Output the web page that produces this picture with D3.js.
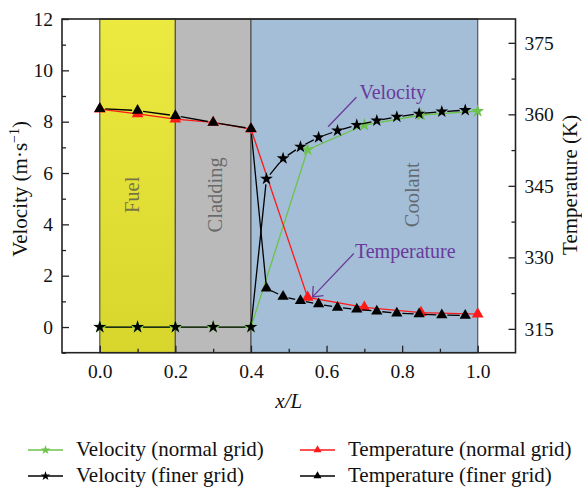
<!DOCTYPE html>
<html>
<head>
<meta charset="utf-8">
<script src="https://cdn.jsdelivr.net/npm/d3@7"></script>
<style>
  body { margin: 0; background: #fff; }
  svg { display: block; font-family: "Liberation Serif", "Times New Roman", Times, Tinos, "DejaVu Serif", "Noto Serif", serif; }
</style>
</head>
<body>
<div id="chart"></div>
<script>
// regions along x/L
const regionNames = ["Fuel", "Cladding", "Coolant"];
const regionStart = [0.0, 0.2, 0.4];
const regionEnd = [0.2, 0.4, 1.0];
const regionLabelX = [0.085, 0.305, 0.827];

// normal grid
const xNormal = [0, 0.1, 0.2, 0.3, 0.4, 0.55, 0.7, 0.85, 1.0];
const velNormal = [0, 0, 0, 0, 0, 6.91, 7.87, 8.26, 8.41];
const tempNormal = [361.1, 360.1, 359.0, 358.3, 356.9, 321.6, 319.5, 318.4, 318.1];

// finer grid
const xFine = [0, 0.1, 0.2, 0.3, 0.4, 0.441, 0.485, 0.531, 0.579, 0.629, 0.68, 0.733, 0.786, 0.845, 0.905, 0.967];
const velFine = [0, 0, 0, 0, 0, 5.77, 6.57, 7.02, 7.39, 7.65, 7.87, 8.04, 8.19, 8.31, 8.39, 8.45];
const tempFine = [361.2, 360.8, 359.7, 358.3, 357.0, 323.5, 321.8, 320.9, 320.2, 319.5, 319.1, 318.7, 318.3, 318.1, 317.9, 317.8];

// ticks
const xTicks = [0, 0.2, 0.4, 0.6, 0.8, 1.0];
const xMinor = [0.1, 0.3, 0.5, 0.7, 0.9];
const velTicks = [0, 2, 4, 6, 8, 10, 12];
const velMinor = [-1, 1, 3, 5, 7, 9, 11];
const tempTicks = [315, 330, 345, 360, 375];
const tempMinor = [322.5, 337.5, 352.5, 367.5];

const legendLabels = ["Velocity (normal grid)", "Temperature (normal grid)",
                      "Velocity (finer grid)", "Temperature (finer grid)"];

const W = 582, H = 488;
const FONT = "'Liberation Serif', 'Times New Roman', Times, Tinos, 'DejaVu Serif', 'Noto Serif', serif";
const svg = d3.select("#chart").append("svg").attr("width", W).attr("height", H)
  .style("font-family", FONT);
svg.append("rect").attr("width", W).attr("height", H).attr("fill", "#fff");

// scales
const xs = d3.scaleLinear().domain([-0.1, 1.1]).range([62, 515.5]);
const yv = d3.scaleLinear().domain([-1, 12]).range([352.7, 19]);
const yt = d3.scaleLinear().domain([310, 380]).range([352.7, 19]);
const plotTop = yv.range()[1], plotBottom = yv.range()[0];

// gradient for the fuel band
const defs = svg.append("defs");
const grad = defs.append("linearGradient").attr("id", "fuelGrad")
  .attr("x1", 0).attr("y1", 0).attr("x2", 0).attr("y2", 1);
grad.append("stop").attr("offset", "0%").attr("stop-color", "#ece940");
grad.append("stop").attr("offset", "100%").attr("stop-color", "#d8d52d");
const regionFill = ["url(#fuelGrad)", "#bababa", "#a3bed6"];

// bands
svg.selectAll(".band").data(regionNames).join("rect")
  .attr("class", "band")
  .attr("x", (d, i) => xs(regionStart[i]))
  .attr("y", plotTop)
  .attr("width", (d, i) => xs(regionEnd[i]) - xs(regionStart[i]))
  .attr("height", plotBottom - plotTop)
  .attr("fill", (d, i) => regionFill[i])
  .attr("stroke", "#555").attr("stroke-width", 1.2);

svg.selectAll(".bandLabel").data(regionNames).join("text")
  .attr("class", "bandLabel")
  .attr("transform", (d, i) => `translate(${xs(regionLabelX[i])},${yv(5.15)}) rotate(-90)`)
  .attr("text-anchor", "middle").attr("dominant-baseline", "central")
  .attr("font-size", 20.5).attr("fill", "#4a4a4a").attr("fill-opacity", 0.72)
  .text(d => d);

// lines
const lineV = d3.line().x(d => xs(d[0])).y(d => yv(d[1]));
const lineT = d3.line().x(d => xs(d[0])).y(d => yt(d[1]));
const ptsVN = xNormal.map((x, i) => [x, velNormal[i]]);
const ptsTN = xNormal.map((x, i) => [x, tempNormal[i]]);
const ptsVF = xFine.map((x, i) => [x, velFine[i]]);
const ptsTF = xFine.map((x, i) => [x, tempFine[i]]);

const green = "#6cc24a", red = "#ff1a1a";
const star = d3.symbol().type(d3.symbolStar);
const tri = d3.symbol().type(d3.symbolTriangle);

// line with a small gap to each symbol
function gapPath(pix, gap) {
  let p = "";
  for (let i = 0; i < pix.length - 1; i++) {
    const [x0, y0] = pix[i], [x1, y1] = pix[i + 1];
    const dx = x1 - x0, dy = y1 - y0, len = Math.hypot(dx, dy);
    if (len <= 2 * gap) continue;
    const ux = dx / len, uy = dy / len;
    p += `M${x0 + ux * gap},${y0 + uy * gap}L${x1 - ux * gap},${y1 - uy * gap}`;
  }
  return p;
}

svg.append("path").attr("d", lineV(ptsVN)).attr("fill", "none").attr("stroke", green).attr("stroke-width", 1.3);
svg.append("path").attr("d", lineT(ptsTN)).attr("fill", "none").attr("stroke", red).attr("stroke-width", 1.3);

svg.selectAll(".mVN").data(ptsVN).join("path").attr("class", "mVN")
  .attr("d", star.size(55)).attr("fill", green)
  .attr("transform", d => `translate(${xs(d[0])},${yv(d[1])})`);
svg.selectAll(".mTN").data(ptsTN).join("path").attr("class", "mTN")
  .attr("d", tri.size(60)).attr("fill", red)
  .attr("transform", d => `translate(${xs(d[0])},${yt(d[1])})`);

svg.append("path").attr("d", gapPath(ptsVF.map(d => [xs(d[0]), yv(d[1])]), 5.5))
  .attr("fill", "none").attr("stroke", "#000").attr("stroke-width", 1.3);
svg.append("path").attr("d", gapPath(ptsTF.map(d => [xs(d[0]), yt(d[1])]), 5.5))
  .attr("fill", "none").attr("stroke", "#000").attr("stroke-width", 1.3);

svg.selectAll(".mVF").data(ptsVF).join("path").attr("class", "mVF")
  .attr("d", star.size(50)).attr("fill", "#000")
  .attr("transform", d => `translate(${xs(d[0])},${yv(d[1])})`);
svg.selectAll(".mTF").data(ptsTF).join("path").attr("class", "mTF")
  .attr("d", tri.size(55)).attr("fill", "#000")
  .attr("transform", d => `translate(${xs(d[0])},${yt(d[1])})`);

// annotations
const purple = "#6a3a9c";
svg.append("line")
  .attr("x1", xs(0.679)).attr("y1", yv(8.95)).attr("x2", xs(0.604)).attr("y2", yv(7.8))
  .attr("stroke", purple).attr("stroke-width", 1.3);
svg.append("text").attr("x", xs(0.687)).attr("y", yv(8.87))
  .attr("font-size", 20).attr("fill", purple).text("Velocity");

const a0 = [xs(0.672), yt(330.8)], a1 = [xs(0.563), yt(321.7)];
const ang = Math.atan2(a1[1] - a0[1], a1[0] - a0[0]);
const hl = 11, ha = Math.PI / 4.5;
svg.append("path")
  .attr("d", `M${a0[0]},${a0[1]}L${a1[0]},${a1[1]}` +
    `M${a1[0] - hl * Math.cos(ang - ha)},${a1[1] - hl * Math.sin(ang - ha)}L${a1[0]},${a1[1]}` +
    `L${a1[0] - hl * Math.cos(ang + ha)},${a1[1] - hl * Math.sin(ang + ha)}`)
  .attr("fill", "none").attr("stroke", purple).attr("stroke-width", 1.3);
svg.append("text").attr("x", xs(0.675)).attr("y", yt(329.9))
  .attr("font-size", 20).attr("fill", purple).text("Temperature");

// axes
function styleAxis(g, fs) {
  g.select(".domain").remove();
  g.selectAll(".tick line").attr("stroke", "#222").attr("stroke-width", 1.3);
  g.selectAll(".tick text").attr("font-size", fs).attr("fill", "#111")
    .attr("font-family", null).style("font-family", FONT);
}
const fsTick = 19.5;
svg.append("g").attr("transform", `translate(0,${plotBottom})`)
  .call(d3.axisBottom(xs).tickValues(xTicks).tickFormat(d3.format(".1f"))
    .tickSizeInner(-7).tickSizeOuter(0).tickPadding(11))
  .call(g => styleAxis(g, fsTick));
svg.append("g").attr("transform", `translate(0,${plotBottom})`)
  .call(d3.axisBottom(xs).tickValues(xMinor).tickFormat("").tickSizeInner(-4).tickSizeOuter(0))
  .call(g => styleAxis(g, fsTick));

svg.append("g").attr("transform", `translate(${xs.range()[0]},0)`)
  .call(d3.axisLeft(yv).tickValues(velTicks).tickSizeInner(-7).tickSizeOuter(0).tickPadding(9))
  .call(g => styleAxis(g, fsTick));
svg.append("g").attr("transform", `translate(${xs.range()[0]},0)`)
  .call(d3.axisLeft(yv).tickValues(velMinor).tickFormat("").tickSizeInner(-4).tickSizeOuter(0))
  .call(g => styleAxis(g, fsTick));

svg.append("g").attr("transform", `translate(${xs.range()[1]},0)`)
  .call(d3.axisRight(yt).tickValues(tempTicks).tickSizeInner(-7).tickSizeOuter(0).tickPadding(9))
  .call(g => styleAxis(g, fsTick));
svg.append("g").attr("transform", `translate(${xs.range()[1]},0)`)
  .call(d3.axisRight(yt).tickValues(tempMinor).tickFormat("").tickSizeInner(-4).tickSizeOuter(0))
  .call(g => styleAxis(g, fsTick));

// frame
svg.append("rect")
  .attr("x", xs.range()[0]).attr("y", plotTop)
  .attr("width", xs.range()[1] - xs.range()[0]).attr("height", plotBottom - plotTop)
  .attr("fill", "none").attr("stroke", "#222").attr("stroke-width", 1.6);

// axis titles
const midY = (plotTop + plotBottom) / 2;
const lt = svg.append("text")
  .attr("transform", `translate(27,${midY + 3}) rotate(-90)`)
  .attr("text-anchor", "middle").attr("font-size", 21).attr("fill", "#111");
lt.append("tspan").text("Velocity (m·s");
lt.append("tspan").attr("dy", -8).attr("font-size", 14).text("−1");
lt.append("tspan").attr("dy", 8).text(")");

svg.append("text")
  .attr("transform", `translate(577,${midY - 1}) rotate(-90)`)
  .attr("text-anchor", "middle").attr("font-size", 21).attr("fill", "#111")
  .text("Temperature (K)");

svg.append("text").attr("x", (xs.range()[0] + xs.range()[1]) / 2).attr("y", 408)
  .attr("text-anchor", "middle").attr("font-size", 21).attr("font-style", "italic").attr("fill", "#111")
  .text("x/L");

// legend
const legColor = [green, red, "#000", "#000"];
const legSym = [star, tri, star, tri];
const legX = [28, 300];
const legY = [450, 476];
legendLabels.forEach((lab, i) => {
  const col = i % 2, row = Math.floor(i / 2);
  const g = svg.append("g").attr("transform", `translate(${legX[col]},${legY[row]})`);
  g.append("line").attr("x1", 0).attr("x2", 35).attr("y1", 0).attr("y2", 0)
    .attr("stroke", legColor[i]).attr("stroke-width", 1.5);
  g.append("path").attr("d", legSym[i].size(28)()).attr("fill", legColor[i])
    .attr("transform", "translate(17.5,0)");
  g.append("text").attr("x", 48).attr("y", 6).attr("font-size", 21).attr("fill", "#111").text(lab);
});
</script>
</body>
</html>
